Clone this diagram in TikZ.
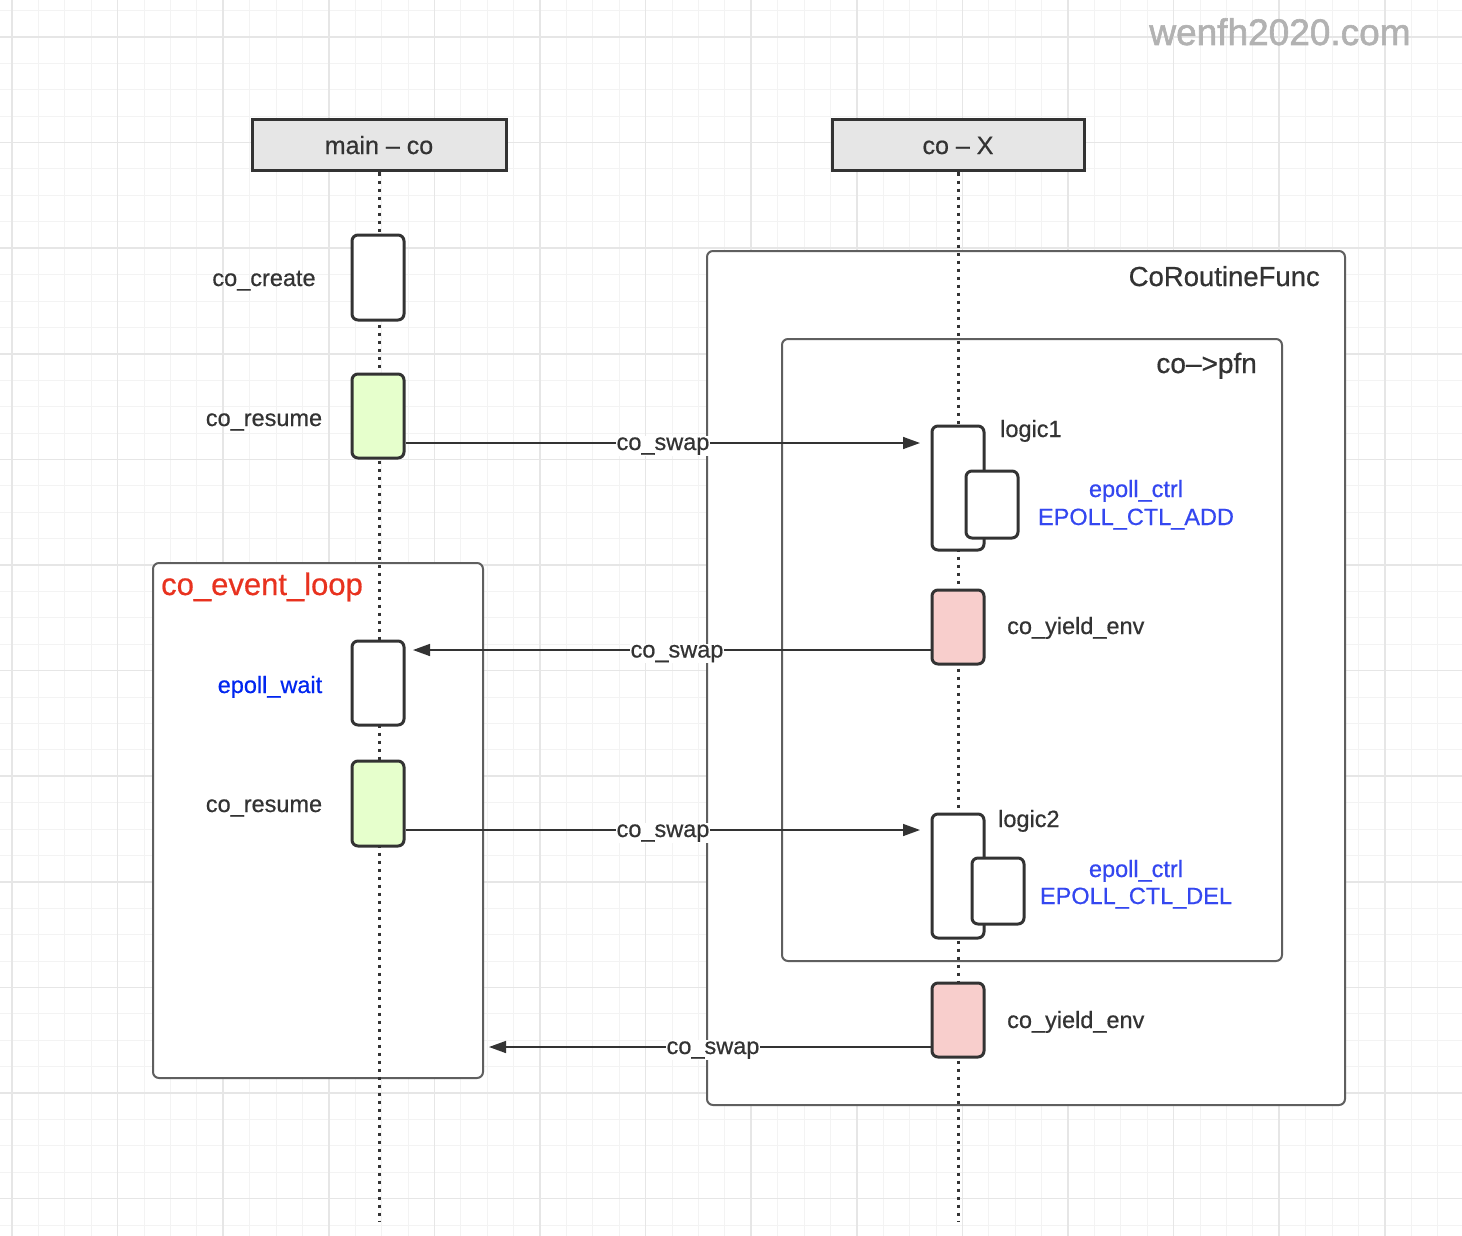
\documentclass[tikz,border=0pt]{standalone}
\usepackage{fontspec}
\setmainfont{Liberation Sans}[FakeBold=0.6]
\newfontfamily\wmfont{Liberation Sans}[FakeBold=1.6]
\usetikzlibrary{arrows.meta,calc}
\definecolor{ink}{HTML}{333333}
\definecolor{frame}{HTML}{5F5F5F}
\definecolor{gridminor}{HTML}{F3F3F3}
\definecolor{gridmajor}{HTML}{E6E6E6}
\definecolor{hdrfill}{HTML}{E6E6E6}
\definecolor{greenfill}{HTML}{E6FFCC}
\definecolor{pinkfill}{HTML}{F8CECC}
\definecolor{bluewait}{HTML}{0026F0}
\definecolor{bluectl}{HTML}{3447F0}
\definecolor{redloop}{HTML}{E8321F}
\definecolor{wmark}{HTML}{B2B2B2}
\begin{document}
\begin{tikzpicture}[x=1pt,y=-1pt,
  hdr/.style={draw=ink, line width=3pt, fill=hdrfill, minimum width=254pt, minimum height=51pt, inner sep=0pt},
  actbox/.style={draw=ink, line width=3pt, rounded corners=6pt, fill=white, minimum width=52pt, inner sep=0pt},
  container/.style={draw=frame, line width=2pt, rounded corners=6pt, fill=white, inner sep=0pt},
  lifeline/.style={draw=ink, line width=3pt, dash pattern=on 3pt off 5pt},
  msg/.style={draw=ink, line width=1.5pt, -{Triangle[length=17pt,width=12pt]}},
  msglbl/.style={fill=white, inner sep=1pt, text=ink, font=\fontsize{23.5}{28}\selectfont, anchor=base},
  lbl/.style={inner sep=0pt, text=ink, font=\fontsize{23.5}{28}\selectfont},
  bluelbl/.style={inner sep=0pt, text=bluectl, font=\fontsize{23.5}{28}\selectfont, anchor=base},
]
\useasboundingbox (0,0) rectangle (1462,1236);
\fill[white] (0,0) rectangle (1462,1236);
% grid
\foreach \i in {0,...,55} {\draw[gridminor, line width=1pt] ({12+26.4*\i},0) -- ({12+26.4*\i},1236);}
\foreach \j in {0,...,46} {\draw[gridminor, line width=1pt] (0,{10.6+26.4*\j}) -- (1462,{10.6+26.4*\j});}
\foreach \i in {0,...,13} {\draw[gridmajor, line width=1.5pt] ({12+105.6*\i},0) -- ({12+105.6*\i},1236);}
\foreach \j in {0,...,11} {\draw[gridmajor, line width=1.5pt] (0,{37+105.6*\j}) -- (1462,{37+105.6*\j});}

% watermark
\node[text=wmark, inner sep=0pt, anchor=base, font=\wmfont\fontsize{37}{42}\selectfont] (wm) at (1280,45) {wenfh2020.com};

% containers
\node[container, minimum width=638pt, minimum height=854pt] (crf) at (1026,678) {};
\node[container, minimum width=500pt, minimum height=622pt] (pfn) at (1032,650) {};
\node[container, minimum width=330pt, minimum height=515pt] (evl) at (318,820.5) {};
\node[lbl, anchor=base east, font=\fontsize{27.5}{31}\selectfont] (crflbl) at (1320,286) {CoRoutineFunc};
\node[lbl, anchor=base east, font=\fontsize{28}{32}\selectfont] (pfnlbl) at (1257,373) {co–>pfn};
\node[lbl, anchor=base west, text=redloop, font=\fontsize{31}{35}\selectfont] (evllbl) at (161,595) {co\_event\_loop};

% headers
\node[hdr] (hmain) at (379,145.5) {};
\node[hdr, minimum width=252pt] (hco) at (958,145.5) {};
\node[lbl, anchor=base, font=\fontsize{25}{29}\selectfont] at (379,154) {main – co};
\node[lbl, anchor=base, font=\fontsize{25}{29}\selectfont] at (958,154) {co – X};

% lifelines
\coordinate (mainend) at (379,1222);
\coordinate (coend) at (958,1222);
\draw[lifeline] (hmain.south) -- (mainend);
\draw[lifeline] (hco.south) -- (coend);

% activation boxes
\node[actbox, minimum height=85pt] (create) at (378,277.5) {};
\node[actbox, minimum height=84pt, fill=greenfill] (resume1) at (378,416) {};
\node[actbox, minimum height=84pt] (wait) at (378,683) {};
\node[actbox, minimum height=85pt, fill=greenfill] (resume2) at (378,803.5) {};
\node[actbox, minimum height=124pt] (logic1) at (958,488) {};
\node[actbox, minimum height=67pt] (ctl1) at (992,504.5) {};
\node[actbox, minimum height=74pt, fill=pinkfill] (yield1) at (958,627) {};
\node[actbox, minimum height=124pt] (logic2) at (958,876) {};
\node[actbox, minimum height=66pt] (ctl2) at (998,891) {};
\node[actbox, minimum height=74pt, fill=pinkfill] (yield2) at (958,1020) {};

% messages
\coordinate (a1end) at (920,443);
\coordinate (a2end) at (413,650);
\coordinate (a3end) at (920,830);
\coordinate (a4end) at (489,1047);
\draw[msg] (resume1.east |- a1end) -- (a1end);
\draw[msg] (yield1.west |- a2end) -- (a2end);
\draw[msg] (resume2.east |- a3end) -- (a3end);
\draw[msg] (yield2.west |- a4end) -- (a4end);
\node[msglbl] at (663,450) {co\_swap};
\node[msglbl] at (677,657.5) {co\_swap};
\node[msglbl] at (663,837) {co\_swap};
\node[msglbl] at (713,1054) {co\_swap};

% labels
\node[lbl, anchor=base] at (264,286) {co\_create};
\node[lbl, anchor=base] at (264,426) {co\_resume};
\node[lbl, anchor=base, text=bluewait] at (270,693) {epoll\_wait};
\node[lbl, anchor=base] at (264,812) {co\_resume};
\node[lbl, anchor=base west] at (1000,437) {logic1};
\node[bluelbl] at (1136,497) {epoll\_ctrl};
\node[bluelbl] at (1136,525) {EPOLL\_CTL\_ADD};
\node[lbl, anchor=base west] at (1007,634) {co\_yield\_env};
\node[lbl, anchor=base west] at (998,827) {logic2};
\node[bluelbl] at (1136,877) {epoll\_ctrl};
\node[bluelbl] at (1136,904) {EPOLL\_CTL\_DEL};
\node[lbl, anchor=base west] at (1007,1028) {co\_yield\_env};
\end{tikzpicture}
\end{document}
